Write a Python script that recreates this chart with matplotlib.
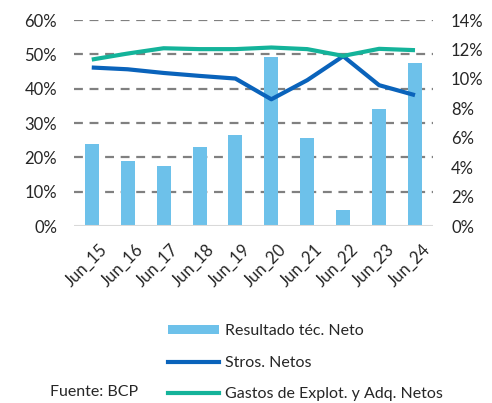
import numpy as np
import matplotlib.pyplot as plt
import matplotlib.transforms as mtransforms
from matplotlib.patches import Patch
from matplotlib.lines import Line2D
from matplotlib.ticker import FuncFormatter

plt.rcParams['font.family'] = ['Lato', 'DejaVu Sans']

# data
periods = ["Jun_15", "Jun_16", "Jun_17", "Jun_18", "Jun_19",
           "Jun_20", "Jun_21", "Jun_22", "Jun_23", "Jun_24"]
resultado_tec = [23.9, 19.1, 17.4, 22.9, 26.4, 49.3, 25.7, 4.7, 34.0, 47.5]   # left axis, %
stros_netos = [10.78, 10.66, 10.41, 10.21, 10.03, 8.62, 9.92, 11.55, 9.58, 8.90]  # right axis, %
gastos_netos = [11.32, 11.73, 12.09, 12.03, 12.03, 12.14, 12.03, 11.57, 12.05, 11.96]  # right axis, %

c_bar = "#6DC1EA"
c_blue = "#0A63BB"
c_green = "#14B39A"
c_text = "#262626"

fig = plt.figure(figsize=(4.92, 4.03), dpi=100)
ax = fig.add_axes([0.150, 0.439, 0.730, 0.511])
ax2 = ax.twinx()

x = np.arange(len(periods))
ax.bar(x, resultado_tec, width=0.39, color=c_bar, zorder=2)
ax2.plot(x, stros_netos, color=c_blue, lw=3, solid_capstyle='butt')
ax2.plot(x, gastos_netos, color=c_green, lw=3, solid_capstyle='butt')

ax.set_xlim(-0.5, len(periods) - 0.5)
ax.set_ylim(0, 60)
ax2.set_ylim(0, 14)
ax.set_yticks(np.arange(0, 61, 10))
ax2.set_yticks(np.arange(0, 15, 2))
ax.yaxis.set_major_formatter(FuncFormatter(lambda v, p: f"{v:.0f}%"))
ax2.yaxis.set_major_formatter(FuncFormatter(lambda v, p: f"{v:.0f}%"))

# dashed gridlines (skip the baseline, drawn solid light grey)
for v in range(10, 61, 10):
    ax.axhline(v, color="#808080", lw=1.6, ls=(0, (4, 3)), zorder=1)
ax.axhline(0, color="#D9D9D9", lw=1.5, zorder=3)

for a in (ax, ax2):
    for s in a.spines.values():
        s.set_visible(False)
ax.tick_params(axis='y', length=0, pad=12, labelsize=12, labelcolor=c_text)
ax2.tick_params(axis='y', length=0, pad=13, labelsize=12, labelcolor=c_text)

ax.set_xticks(x)
ax.set_xticklabels(periods, rotation=45, ha='right', rotation_mode='anchor',
                   fontsize=12, color=c_text)
ax.tick_params(axis='x', length=0, pad=8)
# nudge the rotated labels right/down so they end near the bar centres
offset = mtransforms.ScaledTranslation(7 / 100, -4 / 100, fig.dpi_scale_trans)
for lbl in ax.get_xticklabels():
    lbl.set_transform(lbl.get_transform() + offset)

handles = [Patch(facecolor=c_bar, edgecolor='none'),
           Line2D([], [], color=c_blue, lw=3),
           Line2D([], [], color=c_green, lw=3)]
labels = ["Resultado téc. Neto", "Stros. Netos", "Gastos de Explot. y Adq. Netos"]
fig.legend(handles, labels, loc='upper left', bbox_to_anchor=(0.325, 0.215),
           frameon=False, fontsize=11.5, handlelength=3.2, handleheight=0.5,
           labelspacing=1.1, handletextpad=0.4, borderpad=0, labelcolor=c_text)

fig.text(0.102, 0.027, "Fuente: BCP", fontsize=11.5, color=c_text, va='center')

fig.savefig("out.png", dpi=100)
